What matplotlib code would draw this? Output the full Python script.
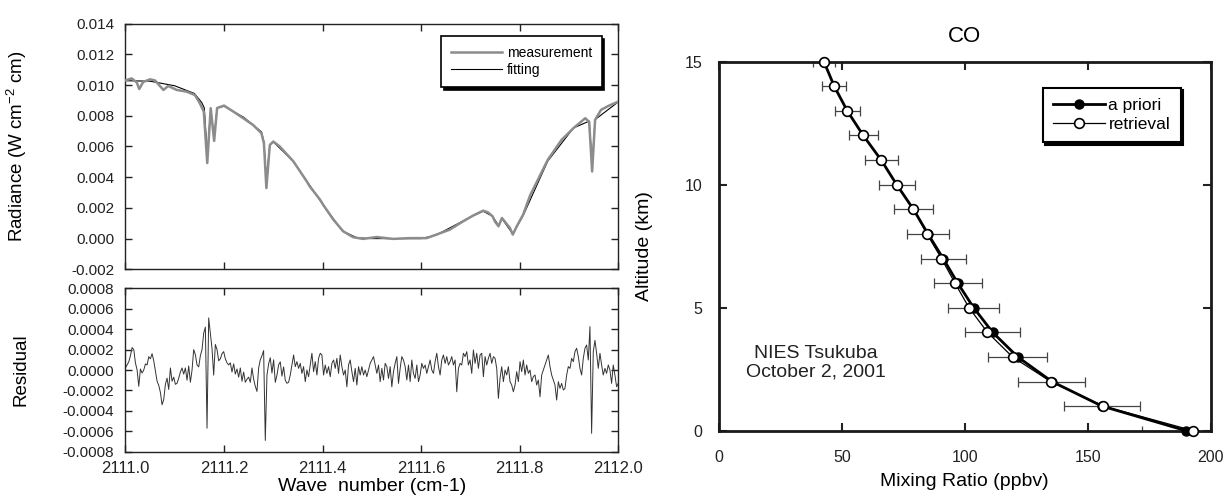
import numpy as np
import matplotlib
matplotlib.use("Agg")
import matplotlib.pyplot as plt
from matplotlib.lines import Line2D
from matplotlib.ticker import MultipleLocator, FuncFormatter

plt.rcParams['font.family'] = ['Liberation Sans', 'DejaVu Sans']
plt.rcParams['mathtext.default'] = 'regular'

# measured spectrum: wave number offset from 2111 cm-1, radiance in 1e-3 W cm-2 cm
meas_wn = [0.000, 0.0125, 0.023, 0.028, 0.036, 0.050, 0.060, 0.077, 0.087, 0.104,
           0.124, 0.141, 0.151, 0.159, 0.166, 0.173, 0.180, 0.186, 0.200, 0.219,
           0.239, 0.259, 0.276, 0.281, 0.286, 0.293, 0.300, 0.313, 0.341, 0.368,
           0.374, 0.395, 0.401, 0.422, 0.442, 0.462, 0.482, 0.510, 0.543, 0.577,
           0.611, 0.631, 0.658, 0.685, 0.706, 0.726, 0.736, 0.745, 0.750, 0.757,
           0.764, 0.770, 0.780, 0.786, 0.794, 0.807, 0.821, 0.857, 0.885, 0.909,
           0.933, 0.941, 0.947, 0.953, 0.965, 0.980, 1.000]
meas_rad = [10.30, 10.43, 10.17, 9.74, 10.20, 10.37, 10.30, 9.68, 9.94, 9.68,
            9.57, 9.35, 8.81, 8.27, 4.92, 8.49, 6.36, 8.50, 8.66, 8.27,
            7.84, 7.40, 6.86, 6.20, 3.29, 6.10, 6.32, 6.00, 5.02, 3.72,
            3.40, 2.53, 2.21, 1.23, 0.47, 0.09, -0.02, 0.10, -0.02, 0.03,
            0.03, 0.26, 0.58, 1.12, 1.51, 1.82, 1.70, 1.45, 1.10, 0.80,
            1.34, 1.10, 0.70, 0.26, 0.80, 1.56, 2.80, 5.13, 6.43, 7.19,
            7.84, 7.60, 4.37, 7.73, 8.38, 8.64, 8.92]

# fitted spectrum
fit_wn = [0.000, 0.050, 0.100, 0.140, 0.155, 0.160, 0.166, 0.173, 0.180, 0.186,
          0.200, 0.240, 0.276, 0.281, 0.286, 0.293, 0.300, 0.340, 0.400, 0.440,
          0.470, 0.500, 0.600, 0.630, 0.700, 0.726, 0.745, 0.757, 0.764, 0.786,
          0.807, 0.857, 0.909, 0.941, 0.947, 0.953, 1.000]
fit_rad = [10.28, 10.25, 9.95, 9.45, 8.85, 8.50, 5.50, 8.40, 6.60, 8.50,
           8.62, 7.90, 6.95, 6.30, 3.90, 6.10, 6.30, 5.05, 2.25, 0.50,
           0.05, 0.00, 0.00, 0.22, 1.40, 1.78, 1.45, 0.85, 1.30, 0.30,
           1.50, 5.05, 7.20, 7.65, 4.90, 7.75, 8.90]

# residual in 1e-4, evenly sampled from 2111.0 to 2112.0
resid = [
    0.2, 0.5, 0.8, 1.4, 2.2, 2.0, 0.7, 0.0, -1.6, 0.1,
    -0.3, 0.0, 0.6, 0.5, 1.3, 1.1, 1.6, 0.9, -0.1, -1.1,
    -1.5, -2.2, -3.4, -2.9, -1.4, -0.8, -1.9, 0.2, -1.1, -0.7,
    -1.4, -1.3, -0.8, -0.2, 0.2, -0.4, 0.2, -1.0, 0.4, -1.2,
    0.0, 2.0, 1.5, 0.5, 0.3, 1.4, 2.0, 3.6, 4.2, -5.7,
    5.1, 3.6, 2.1, -0.5, 2.5, 2.0, 0.9, 1.1, 1.6, 1.8,
    1.1, 0.7, 0.5, 0.7, -0.2, 0.6, -0.4, 0.1, -0.7, 0.2,
    -1.1, -0.2, -1.2, -0.9, -0.7, -1.2, 0.2, -0.9, -1.6, -2.1,
    0.2, 1.0, 1.4, 1.9, -6.9, -0.5, 0.6, 1.2, -0.3, 1.0,
    -1.2, -0.5, 0.5, 0.8, -0.6, 0.3, -1.0, -1.3, -1.2,
    -0.49, 0.49, 1.47, 0.33, 0.82, 0.16, 0.65, -0.33, 0.33, -1.14,
    0.0, -0.65, 0.49, 1.64, -0.16, 0.82, -0.49, 1.14, 1.64, 1.47,
    -0.49, 0.49, -0.33, 0.33, -0.65, 0.65, 0.98, 0.16, 1.14, -0.33,
    1.47, 0.33, -0.49, 0.0, -1.64, 0.49, 0.98, -0.16, -1.14, 0.16,
    -1.47, 0.33, -0.49, 0.33, -0.49, 0.0, -0.65, 0.0, 0.65, 0.98,
    1.31, 0.49, -0.33, 0.49, -1.14, 0.16, -0.98, 0.65, 0.33, -0.82,
    0.33, -1.64, -0.16, 0.65, 1.31, -1.31, 0.16, 1.31, 0.98, 0.33,
    -0.98, 0.49, -1.14, 0.98, -0.33, -0.82, 0.49, -1.14, -0.49, 0.65,
    0.16, 0.49, -0.33, 0.33, 0.98, 0.0, -0.33, 0.82, 1.64, 0.33,
    -0.49, 0.98, 1.47, 0.65, 1.31, 0.49, 0.82, 1.31, 0.49,
    0.98, -2.13, 0.16, 0.65, 0.49, 1.64, 1.31, 1.80, 0.49, 0.98,
    -0.33, 1.96, 0.65, 1.64, 0.16, 1.47, 1.64, -0.65, 1.31, 0.49,
    1.14, 1.64, 0.65, 1.31, 1.14, 0.16, -2.78, -0.82, 0.33, -1.14,
    0.0, -0.49, 0.33, -1.14, -1.47, -2.13, -1.47, -0.16, -1.14, 0.82,
    -0.16, 0.98, -0.49, 0.49, -0.33, 0.0, -1.14, -0.65, -0.49, -1.47,
    -0.98, -2.62, -0.49, 0.0, 0.49, 0.98, 1.47, 0.33, -0.49, -0.98,
    -1.47, -2.94, -1.14, -1.80, -1.31, -1.96, -1.80, -0.49, 0.33, 0.16,
    1.14, 0.82, 1.80, 2.13, 1.31, 0.16, -0.49, 1.14, 2.13, 2.45,
    0.98, 4.25, -6.2, 1.8, 2.9, 1.64, 0.16, 1.64, 0.49, -0.49,
    0.16, -0.33, 0.49, 0.0, -1.31, 0.49, -0.49, -1.64, -1.3,
]

# CO profile
altitude = list(range(16))
apriori = [190.0, 155.8, 135.4, 121.5, 111.3, 103.6, 97.1, 91.2, 85.0, 79.1,
           72.3, 66.0, 58.7, 52.2, 46.9, 42.7]
retrieval = [192.9, 156.3, 134.9, 119.4, 109.2, 101.7, 96.0, 90.5, 84.6, 79.1,
             72.3, 66.0, 58.7, 52.2, 46.9, 42.7]
apriori_err = [18.0, 15.6, 13.6, 12.1, 11.2, 10.4, 9.7, 9.2, 8.5, 7.9,
               7.4, 6.7, 5.9, 5.1, 4.8, 4.3]


def fmt(decimals):
    return FuncFormatter(lambda v, pos: '%.*f' % (decimals, round(v, 8) + 0.0))


fig = plt.figure(figsize=(12.25, 5), dpi=100)
ax1 = fig.add_axes([0.1024, 0.4614, 0.4023, 0.4914])
ax2 = fig.add_axes([0.1024, 0.0966, 0.4023, 0.3268])
ax3 = fig.add_axes([0.5869, 0.1386, 0.4014, 0.738])

# spectrum
ax1.plot(2111 + np.array(fit_wn), np.array(fit_rad) * 1e-3, color='black', lw=0.8, zorder=2)
ax1.plot(2111 + np.array(meas_wn), np.array(meas_rad) * 1e-3, color='#8c8c8c', lw=1.8, zorder=3)
ax1.set_xlim(2111, 2112)
ax1.set_ylim(-0.002, 0.014)
ax1.yaxis.set_major_locator(MultipleLocator(0.002))
ax1.yaxis.set_major_formatter(fmt(3))
ax1.xaxis.set_major_locator(MultipleLocator(0.2))
ax1.set_ylabel('Radiance (W cm$^{-2}$ cm)', fontsize=13.5)
ax1.yaxis.set_label_coords(-0.195, 0.5)

handles = [Line2D([], [], color='#8c8c8c', lw=1.8), Line2D([], [], color='black', lw=0.8)]
leg = ax1.legend(handles, ['measurement', 'fitting'], loc='upper left',
                 bbox_to_anchor=(0.641, 0.95), borderaxespad=0, fancybox=False,
                 shadow={'color': 'black', 'alpha': 1}, fontsize=10,
                 handlelength=3.7, borderpad=0.7, labelspacing=0.25, handletextpad=0.3)
leg.get_frame().set_edgecolor('black')
leg.get_frame().set_linewidth(1.2)

# residual
ax2.plot(np.linspace(2111, 2112, len(resid)), np.array(resid) * 1e-4, color='#333333', lw=0.7)
ax2.set_xlim(2111, 2112)
ax2.set_ylim(-0.0008, 0.0008)
ax2.yaxis.set_major_locator(MultipleLocator(0.0002))
ax2.yaxis.set_major_formatter(fmt(4))
ax2.xaxis.set_major_locator(MultipleLocator(0.2))
ax2.xaxis.set_major_formatter(fmt(1))
ax2.set_ylabel('Residual', fontsize=13.5)
ax2.yaxis.set_label_coords(-0.195, 0.5)
ax2.set_xlabel('Wave  number (cm-1)', fontsize=14, labelpad=1)

for ax in (ax1, ax2):
    ax.tick_params(direction='in', top=True, right=True, length=5, width=1,
                   labelsize=11, pad=8, colors='#222222')
    for s in ax.spines.values():
        s.set_linewidth(1)
        s.set_color('#222222')
ax1.tick_params(labelbottom=False)
ax2.tick_params(axis='x', labelsize=12, pad=7)

# CO profile
ax3.errorbar(apriori, altitude, xerr=apriori_err, fmt='none', ecolor='#444444',
             elinewidth=0.9, capsize=3.5, capthick=0.9)
ax3.plot(apriori, altitude, '-o', color='black', lw=2, ms=6.5, mfc='black',
         clip_on=False, zorder=4, label='a priori')
ax3.plot(retrieval, altitude, '-o', color='black', lw=0.9, ms=7, mfc='white',
         mec='black', mew=1.2, clip_on=False, zorder=5, label='retrieval')
ax3.set_xlim(0, 200)
ax3.set_ylim(0, 15)
ax3.xaxis.set_major_locator(MultipleLocator(50))
ax3.yaxis.set_major_locator(MultipleLocator(5))
ax3.tick_params(direction='in', top=True, right=True, length=6, width=1.5,
                labelsize=11.5, pad=12, colors='#222222')
ax3.tick_params(axis='x', pad=14)
for s in ax3.spines.values():
    s.set_linewidth(2)
    s.set_color('#1a1a1a')
ax3.set_title('CO', fontsize=16, pad=14)
ax3.set_xlabel('Mixing Ratio (ppbv)', fontsize=14)
ax3.xaxis.set_label_coords(0.5, -0.115)
ax3.set_ylabel('Altitude (km)', fontsize=14)
ax3.yaxis.set_label_coords(-0.135, 0.5)
ax3.text(39.3, 2.77, 'NIES Tsukuba\nOctober 2, 2001', ha='center', va='center',
         fontsize=14, linespacing=1.1, color='#222222')

leg3 = ax3.legend(loc='upper left', bbox_to_anchor=(0.658, 0.93), borderaxespad=0,
                  fancybox=False, shadow={'color': 'black', 'alpha': 1}, fontsize=12.5,
                  handlelength=3.0, borderpad=0.6, labelspacing=0.2, handletextpad=0.2)
leg3.get_frame().set_edgecolor('black')
leg3.get_frame().set_linewidth(1.5)

fig.savefig('out.png', dpi=100)
